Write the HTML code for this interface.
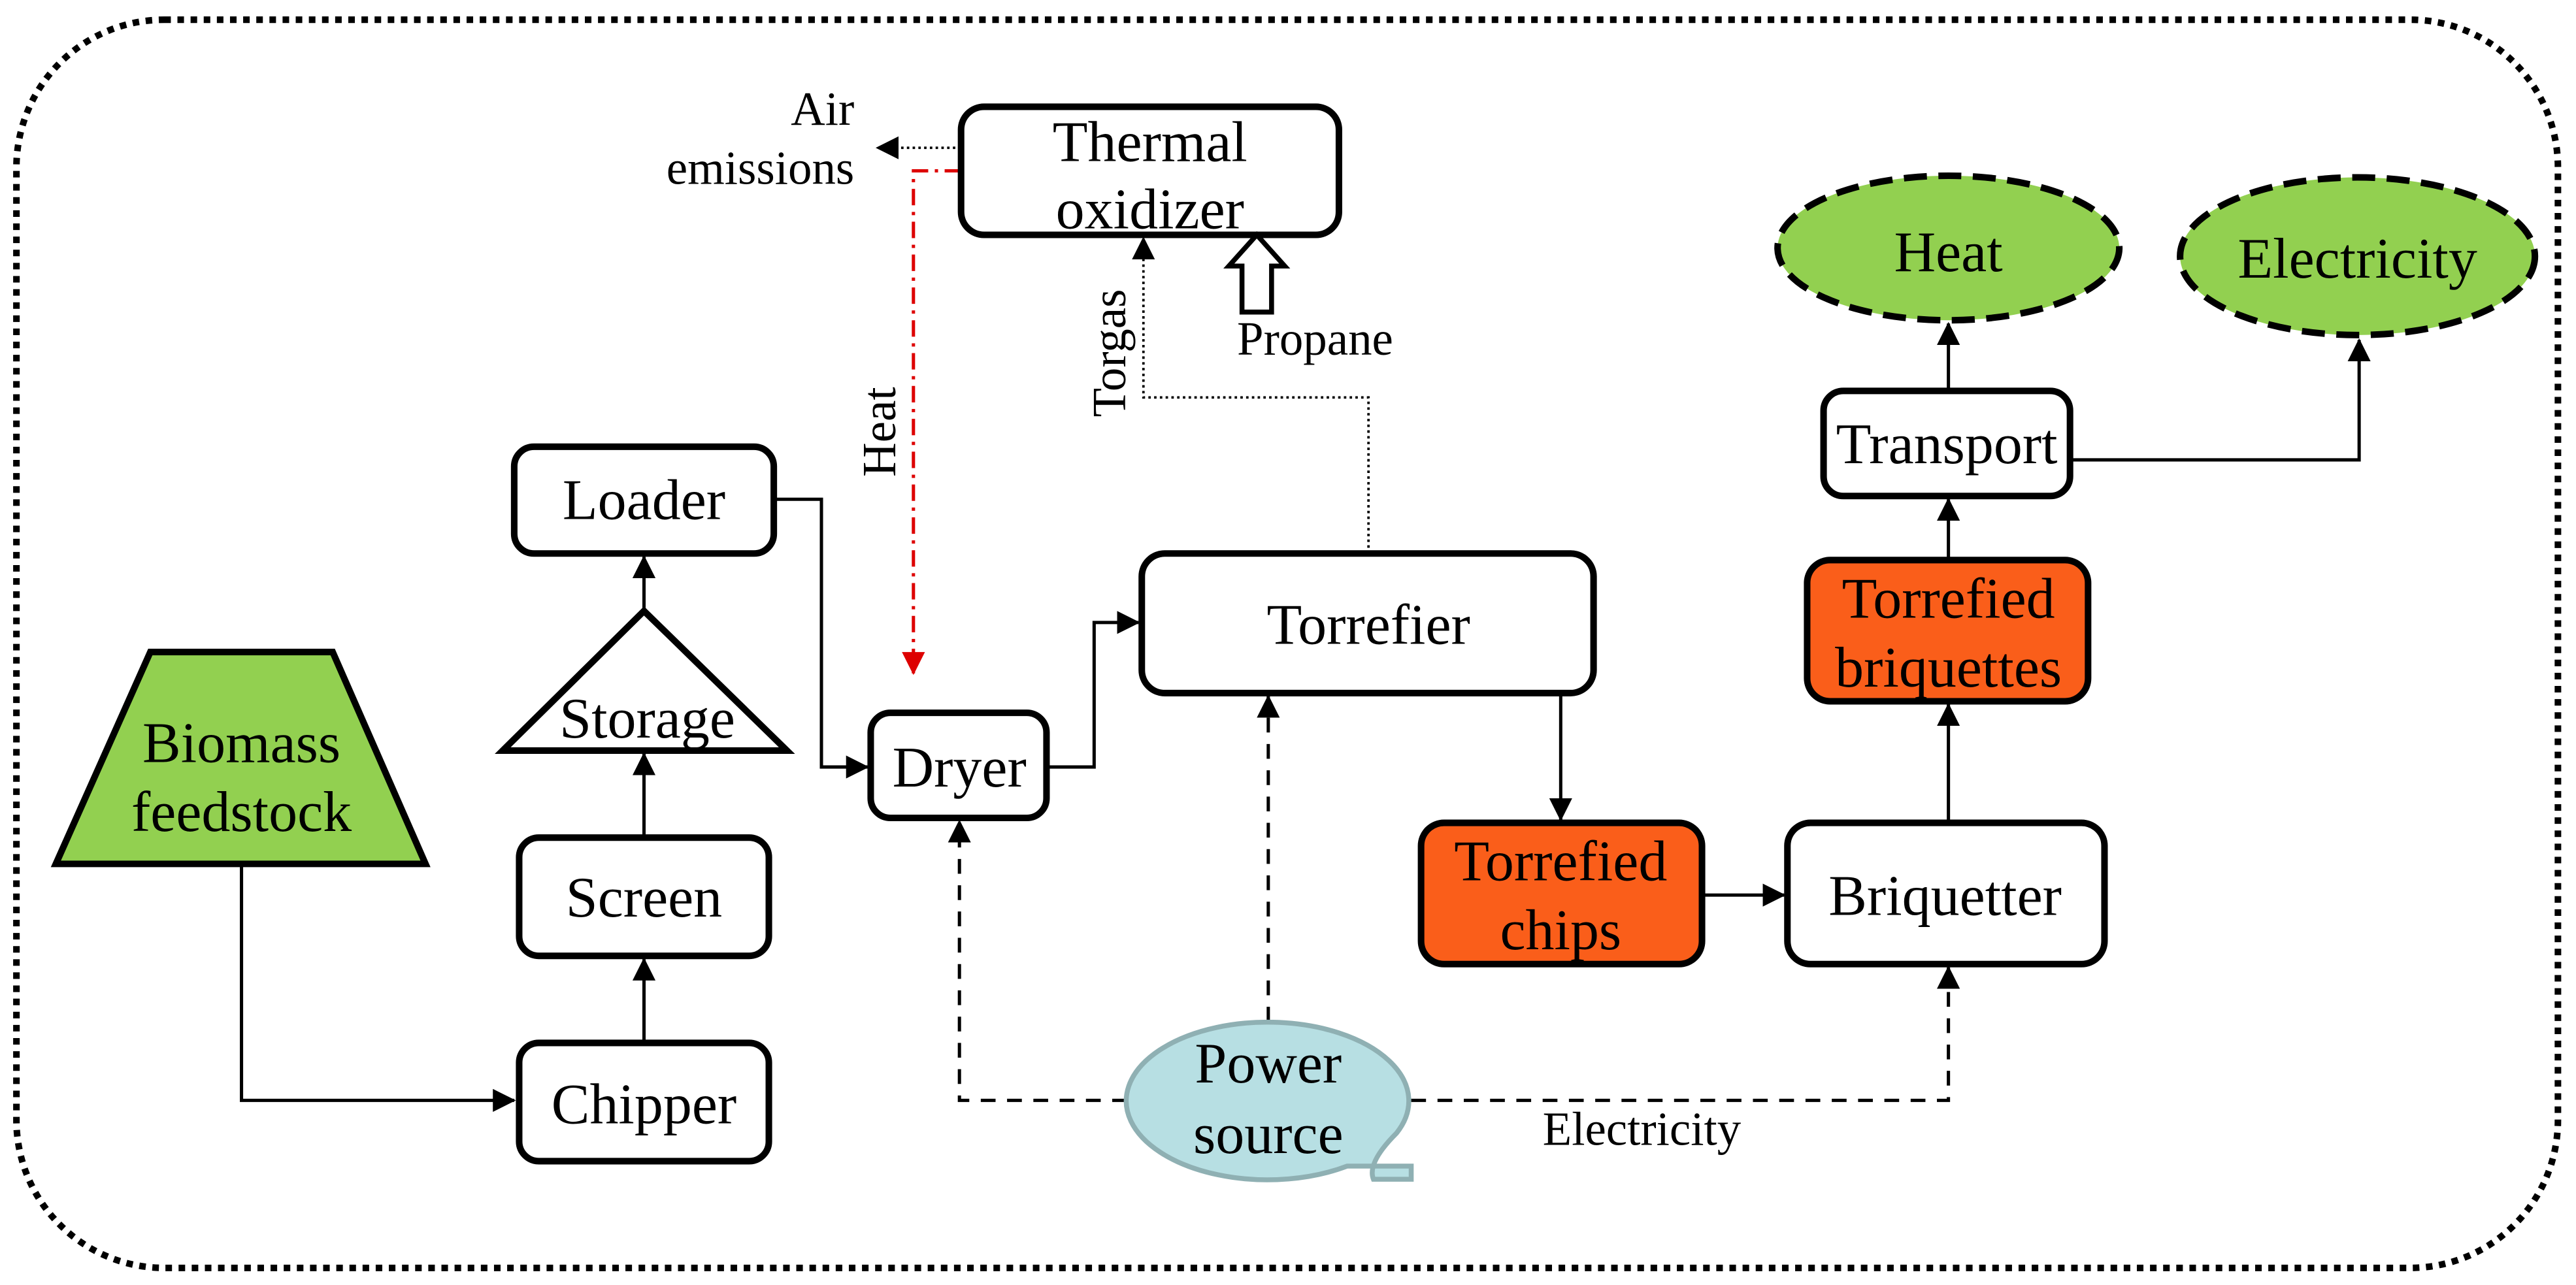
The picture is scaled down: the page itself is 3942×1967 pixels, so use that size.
<!DOCTYPE html>
<html><head><meta charset="utf-8"><style>html,body{margin:0;padding:0;background:#fff}svg{display:block}svg text{font-family:"Liberation Serif","Times New Roman",Times,"DejaVu Serif","Noto Serif CJK SC",serif}</style></head><body>
<svg width="3942" height="1967" viewBox="0 0 1568 782.4" preserveAspectRatio="none" xmlns="http://www.w3.org/2000/svg">
<defs>
<marker id="ab" markerWidth="14" markerHeight="14" refX="13" refY="7" orient="auto" markerUnits="userSpaceOnUse" viewBox="0 0 14 14"><path d="M0,0 L14,7 L0,14z" fill="#000"/></marker>
<marker id="ar" markerWidth="14" markerHeight="14" refX="13" refY="7" orient="auto" markerUnits="userSpaceOnUse" viewBox="0 0 14 14"><path d="M0,0 L14,7 L0,14z" fill="#d00"/></marker>
</defs>
<rect x="10" y="12" width="1547" height="760" rx="90" fill="none" stroke="#000" stroke-width="4" stroke-dasharray="4 4"/>
<g fill="none" stroke="#000" stroke-width="2">
<polyline points="147,526 147,670 313,670" marker-end="url(#ab)"/>
<line x1="392" y1="635" x2="392" y2="584" marker-end="url(#ab)"/>
<line x1="392" y1="510" x2="392" y2="459" marker-end="url(#ab)"/>
<line x1="392" y1="372" x2="392" y2="339" marker-end="url(#ab)"/>
<polyline points="471,304 500,304 500,467 528,467" marker-end="url(#ab)"/>
<polyline points="637,467 666,467 666,379 693,379" marker-end="url(#ab)"/>
<line x1="950" y1="422" x2="950" y2="499" marker-end="url(#ab)"/>
<line x1="1036" y1="545" x2="1086" y2="545" marker-end="url(#ab)"/>
<line x1="1186" y1="501" x2="1186" y2="429" marker-end="url(#ab)"/>
<line x1="1186" y1="341" x2="1186" y2="304" marker-end="url(#ab)"/>
<line x1="1186" y1="238" x2="1186" y2="197" marker-end="url(#ab)"/>
<polyline points="1260,280 1436,280 1436,207" marker-end="url(#ab)"/>
<g stroke-dasharray="9 7">
<polyline points="686,670 584,670 584,500" marker-end="url(#ab)"/>
<line x1="772" y1="622" x2="772" y2="424" marker-end="url(#ab)"/>
<polyline points="859,670 1186,670 1186,589" marker-end="url(#ab)"/>
</g>
<g stroke-dasharray="1.5 2" stroke-width="1.5">
<line x1="585" y1="90" x2="534" y2="90" marker-end="url(#ab)"/>
<polyline points="833,337 833,242 696,242 696,145" marker-end="url(#ab)"/>
</g>
<polyline points="585,104 556,104 556,410" stroke="#d00" stroke-dasharray="10 4 2 4" marker-end="url(#ar)"/>
</g>
<polygon points="91.5,397 202.5,397 259,526 34,526" fill="#92d050" stroke="#000" stroke-width="4"/>
<polygon points="392,372 479,457 306,457" fill="#fff" stroke="#000" stroke-width="4"/>
<g stroke="#000" stroke-width="4" fill="#fff">
<rect x="316" y="635" width="152" height="72" rx="12"/>
<rect x="316" y="510" width="152" height="72" rx="12"/>
<rect x="313" y="272" width="158" height="65" rx="12"/>
<rect x="530" y="434" width="107" height="64" rx="12"/>
<rect x="695" y="337" width="275" height="85" rx="14"/>
<rect x="585" y="65" width="230" height="78" rx="14"/>
<rect x="865" y="501" width="171" height="86" rx="14" fill="#fa5e1a"/>
<rect x="1088" y="501" width="193" height="86" rx="14"/>
<rect x="1100" y="341" width="171" height="86" rx="14" fill="#fa5e1a"/>
<rect x="1110" y="238" width="150" height="64" rx="12"/>
</g>
<g fill="#92d050" stroke="#000" stroke-width="4" stroke-dasharray="14 7">
<ellipse cx="1186" cy="151" rx="104" ry="44"/>
<ellipse cx="1435" cy="156" rx="108" ry="48"/>
</g>
<path d="M850,690 A86,48 0 1 0 820,710 L859,710 L859,718 L836,718 Q832,708 850,690z" fill="#b7dfe3" stroke="#8fb0b3" stroke-width="3"/>
<path d="M756,190 L756,162 L748,162 L765,143 L782,162 L774,162 L774,190z" fill="#fff" stroke="#000" stroke-width="3"/>
<g font-size="35" text-anchor="middle" fill="#000">
<text x="147" y="464">Biomass</text><text x="147" y="506">feedstock</text>
<text x="392" y="684">Chipper</text>
<text x="392" y="558">Screen</text>
<text x="394" y="449">Storage</text>
<text x="392" y="316">Loader</text>
<text x="584" y="479">Dryer</text>
<text x="833" y="392">Torrefier</text>
<text x="700" y="98">Thermal</text><text x="700" y="139">oxidizer</text>
<text x="950" y="536">Torrefied</text><text x="950" y="578">chips</text>
<text x="1184" y="557">Briquetter</text>
<text x="1186" y="376">Torrefied</text><text x="1186" y="418">briquettes</text>
<text x="1185" y="282">Transport</text>
<text x="1186" y="165">Heat</text>
<text x="1435" y="169">Electricity</text>
<text x="772" y="659">Power</text><text x="772" y="702">source</text>
</g>
<g font-size="29" fill="#000">
<text x="520" y="76" text-anchor="end">Air</text>
<text x="520" y="112" text-anchor="end">emissions</text>
<text x="753" y="216">Propane</text>
<text x="939" y="697">Electricity</text>
<text transform="translate(545,263) rotate(-90)" text-anchor="middle">Heat</text>
<text transform="translate(685,215) rotate(-90)" text-anchor="middle">Torgas</text>
</g>
</svg>
</body></html>
